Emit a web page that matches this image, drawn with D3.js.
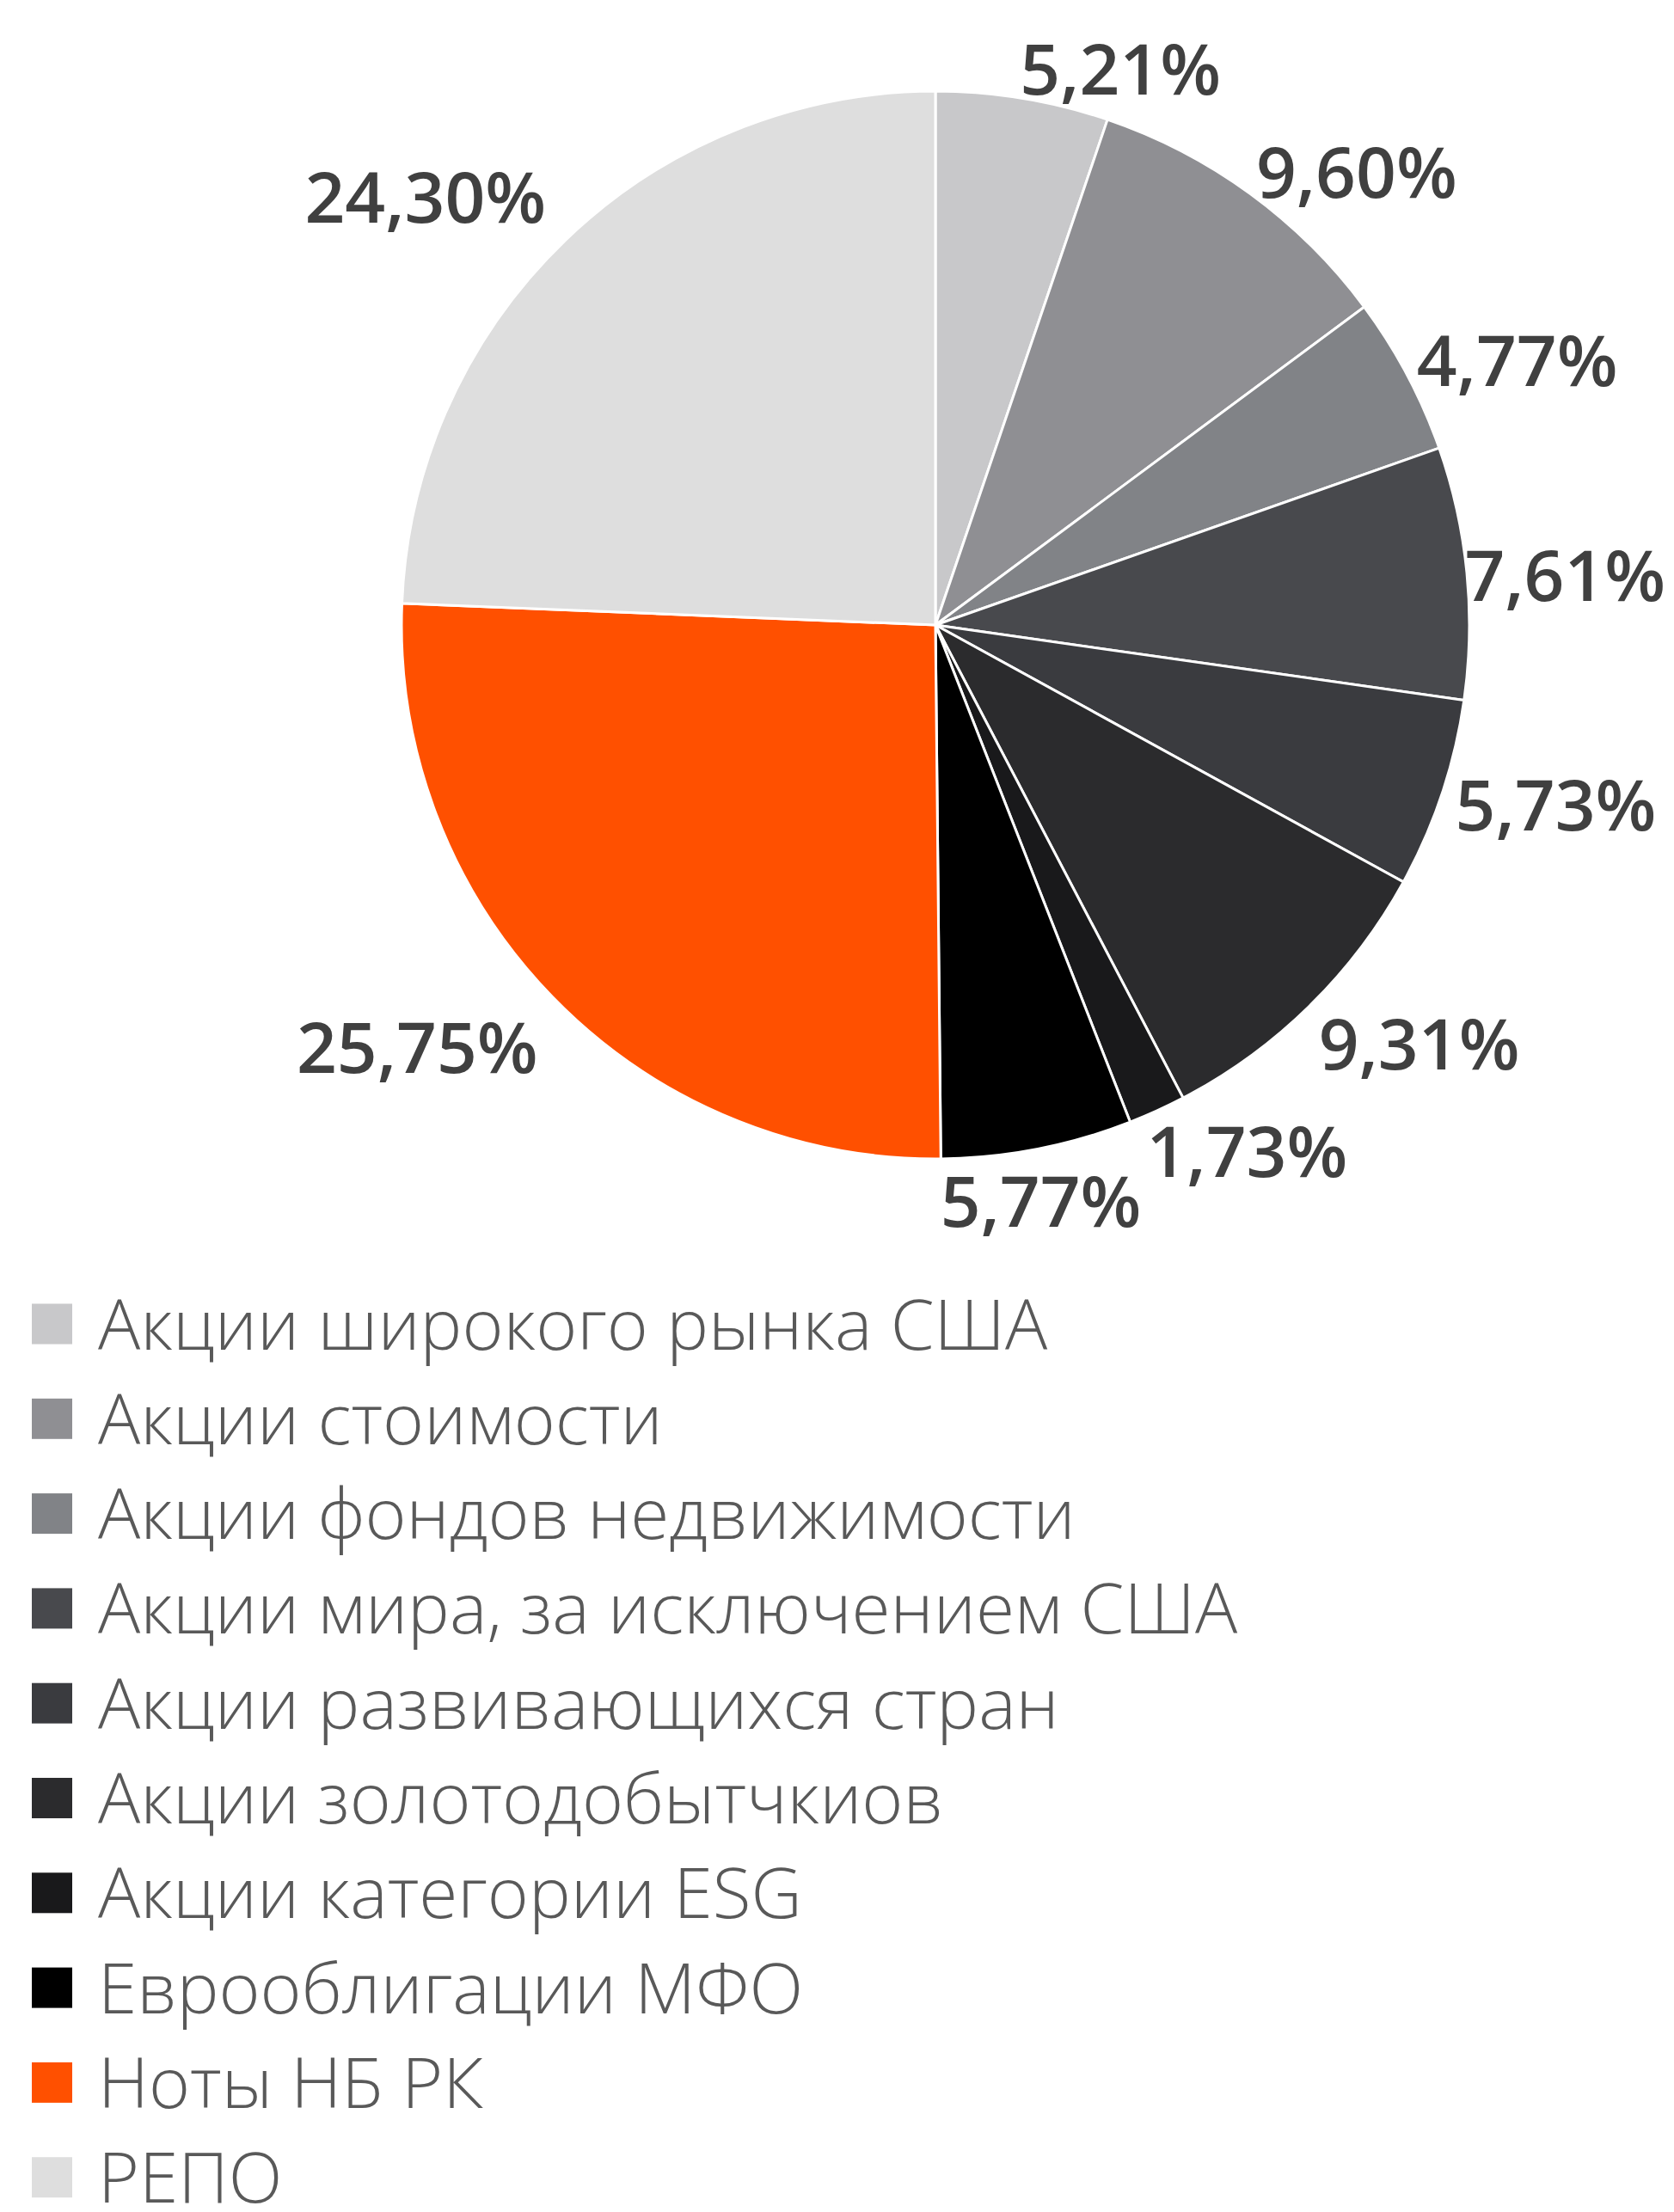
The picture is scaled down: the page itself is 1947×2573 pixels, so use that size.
<!DOCTYPE html>
<html>
<head>
<meta charset="utf-8">
<script src="https://cdn.jsdelivr.net/npm/d3@7"></script>
<style>
  body { margin: 0; background: #fff; }
  .lbl { font-family: "Open Sans", sans-serif; font-weight: 600; fill: #404040; }
  .legend text { font-family: "Open Sans", sans-serif; font-weight: 300; fill: #595959; }
</style>
</head>
<body>
<script>
// categories, values and colours of the pie
var categories = ["Акции широкого рынка США", "Акции стоимости", "Акции фондов недвижимости",
  "Акции мира, за исключением США", "Акции развивающихся стран", "Акции золотодобытчкиов",
  "Акции категории ESG", "Еврооблигации МФО", "Ноты НБ РК", "РЕПО"];
var values = [5.21, 9.60, 4.77, 7.61, 5.73, 9.31, 1.73, 5.77, 25.75, 24.30];
var labels = ["5,21%", "9,60%", "4,77%", "7,61%", "5,73%", "9,31%", "1,73%", "5,77%", "25,75%", "24,30%"];
var colors = ["#c8c8ca", "#8f8f93", "#818387", "#48494d", "#3a3b3f", "#2b2b2d",
  "#19191b", "#000000", "#ff5000", "#dedede"];

var W = 1947, H = 2573;
var cx = 1088, cy = 727, radius = 621;

// small hand nudges so the labels sit where excel put them (px)
var labelShift = [[93, 7], [49, 8], [16, 3], [-12, 7], [12, 0], [39, 15], [52, 10], [-20, 21], [-49, 31], [-59, -20]];

var data = categories.map(function(c, i) { return {name: c, value: values[i], label: labels[i], color: colors[i]}; });

var svg = d3.select("body").append("svg")
    .attr("width", W)
    .attr("height", H);

var g = svg.append("g").attr("transform", "translate(" + cx + "," + cy + ")");

var pie = d3.pie().sort(null).value(function(d) { return d.value; });
var arc = d3.arc().innerRadius(0).outerRadius(radius);
var arcs = pie(data);

g.selectAll("path.slice")
    .data(arcs)
  .enter().append("path")
    .attr("class", "slice")
    .attr("d", arc)
    .style("fill", function(d) { return d.data.color; })
    .style("stroke", "#fff")
    .style("stroke-width", 3);

// data labels - outside end, box pushed out along the mid angle
var gap = 10;
arcs.forEach(function(d, i) {
    var a = (d.startAngle + d.endAngle) / 2;
    var t = g.append("text")
        .attr("class", "lbl")
        .style("font-size", "82px")
        .attr("text-anchor", "middle")
        .attr("dy", "0.36em")
        .text(d.data.label);
    var w = t.node().getComputedTextLength();
    var h = 62;
    var x = Math.sin(a) * (radius + gap) + Math.sin(a) * w / 2 + labelShift[i][0];
    var y = -Math.cos(a) * (radius + gap) - Math.cos(a) * h / 2 + labelShift[i][1];
    t.attr("x", x).attr("y", y);
});

// legend
var legY0 = 1540, legStep = 110.3, sw = 47;
var leg = svg.append("g").attr("class", "legend");
data.forEach(function(d, i) {
    var y = legY0 + i * legStep;
    leg.append("rect")
        .attr("x", 37).attr("y", y - sw / 2)
        .attr("width", sw).attr("height", sw)
        .style("fill", d.color);
    leg.append("text")
        .attr("x", 114).attr("y", y)
        .attr("dy", "0.36em")
        .style("font-size", "82px")
        .text(d.name);
});
</script>
</body>
</html>
